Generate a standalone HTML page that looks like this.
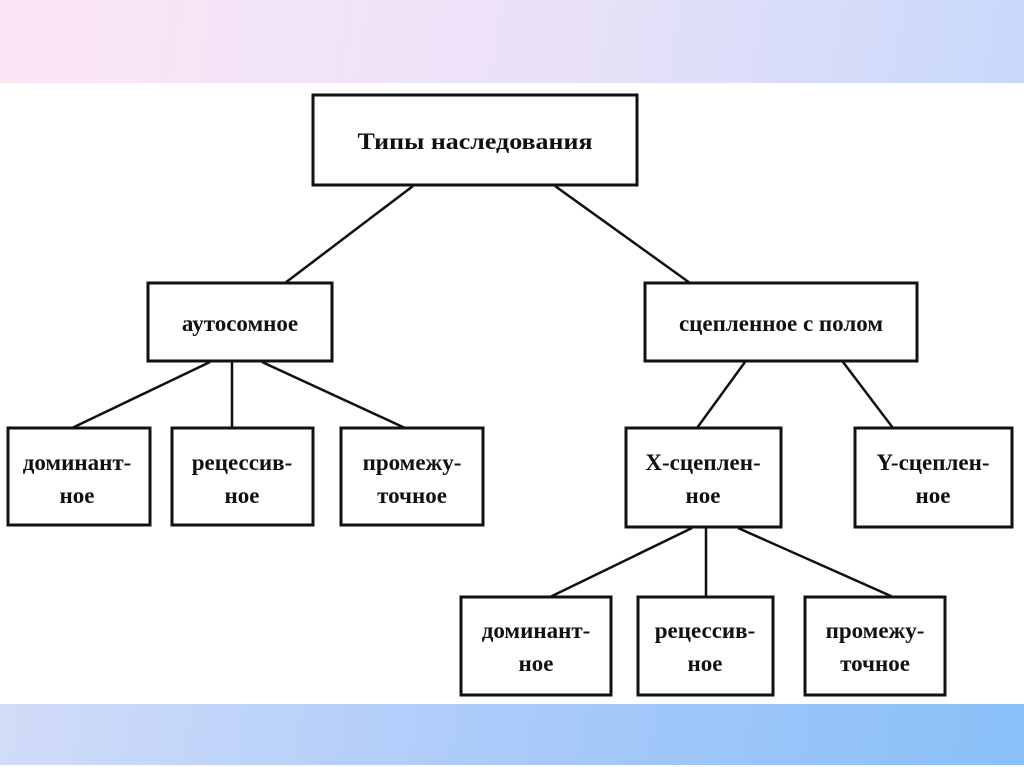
<!DOCTYPE html>
<html><head><meta charset="utf-8"><style>
html,body{margin:0;padding:0;background:#fff;width:1024px;height:767px;overflow:hidden;position:relative}
.top{position:absolute;left:0;top:0;width:1024px;height:83px;background:linear-gradient(100deg,#fce6f6 0%,#ece2f8 50%,#c8d8fa 100%)}
.bot{position:absolute;left:0;top:704px;width:1024px;height:61px;background:linear-gradient(100deg,#d2dcf8 0%,#aacafa 50%,#88c0f8 100%)}
text{font-family:"Liberation Serif",serif;font-weight:bold;font-size:23px;fill:#111;text-anchor:middle}
rect{fill:#fff;stroke:#111;stroke-width:3}
line{stroke:#111;stroke-width:2.5}
</style></head><body>
<div class="top"></div><div class="bot"></div>
<svg width="1024" height="767" style="position:absolute;left:0;top:0">
<line x1="413" y1="186" x2="285" y2="283"/><line x1="555" y1="186" x2="690" y2="283"/>
<line x1="210" y1="362" x2="72" y2="428"/><line x1="232" y1="362" x2="232" y2="428"/><line x1="262" y1="362" x2="405" y2="428"/>
<line x1="745" y1="362" x2="697" y2="428"/><line x1="843" y1="362" x2="893" y2="428"/>
<line x1="692" y1="528" x2="550" y2="597"/><line x1="706" y1="528" x2="706" y2="597"/><line x1="738" y1="528" x2="893" y2="597"/>
<rect x="313" y="95" width="324" height="90"/>
<text x="475" y="149" textLength="235" lengthAdjust="spacingAndGlyphs">Типы наследования</text>
<rect x="148" y="283" width="184" height="78"/>
<text x="240" y="331">аутосомное</text>
<rect x="645" y="283" width="272" height="78"/>
<text x="781" y="331">сцепленное с полом</text>
<rect x="8" y="428" width="142" height="97"/>
<text x="77" y="470">доминант-</text><text x="77" y="503">ное</text>
<rect x="172" y="428" width="141" height="97"/>
<text x="242" y="470">рецессив-</text><text x="242" y="503">ное</text>
<rect x="341" y="428" width="142" height="97"/>
<text x="412" y="470">промежу-</text><text x="412" y="503">точное</text>
<rect x="626" y="428" width="155" height="99"/>
<text x="703" y="470">Х-сцеплен-</text><text x="703" y="503">ное</text>
<rect x="855" y="428" width="157" height="99"/>
<text x="933" y="470">Y-сцеплен-</text><text x="933" y="503">ное</text>
<rect x="461" y="597" width="150" height="98"/>
<text x="536" y="638">доминант-</text><text x="536" y="671">ное</text>
<rect x="638" y="597" width="135" height="98"/>
<text x="705" y="638">рецессив-</text><text x="705" y="671">ное</text>
<rect x="805" y="597" width="140" height="98"/>
<text x="875" y="638">промежу-</text><text x="875" y="671">точное</text>
</svg>
</body></html>
